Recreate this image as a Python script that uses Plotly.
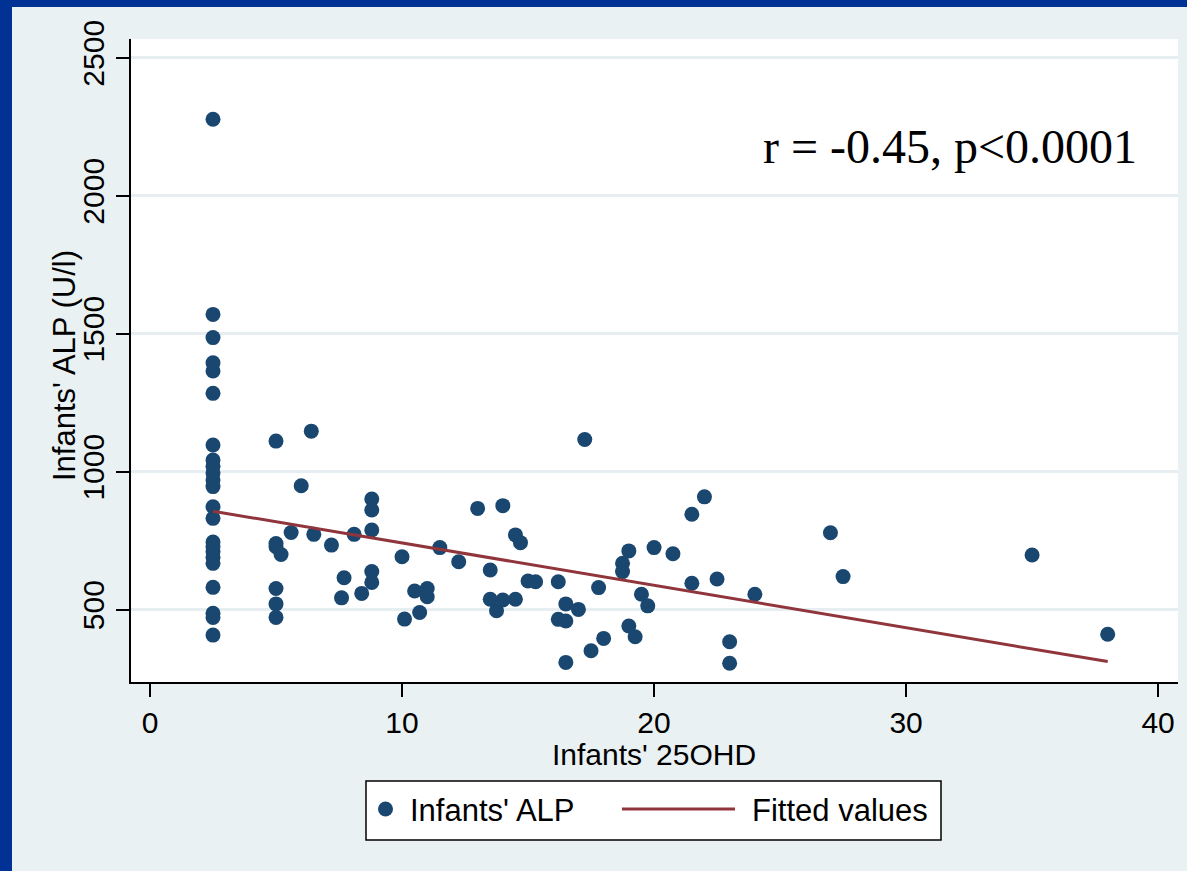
import plotly.graph_objects as go

# ---- data ----
ohd = [2.5] * 23 + [5.0] * 6 + [5.2, 5.6, 6.0, 6.4, 6.5, 7.2, 7.7, 7.6, 8.1, 8.4] + [8.8] * 5 + \
      [10.0, 10.1, 10.5, 10.7, 11.0, 11.0, 11.5, 12.25, 13.0, 13.5, 13.5, 13.75, 14.0, 14.0,
       14.5, 14.5, 14.7, 15.0, 15.3, 16.2, 16.2, 16.5, 16.5, 16.5, 17.0, 17.25, 17.5, 17.8, 18.0,
       18.75, 18.75, 19.0, 19.0, 19.25, 19.5, 19.75, 20.0, 20.75, 21.5, 21.5, 22.0, 22.5,
       23.0, 23.0, 24.0, 27.0, 27.5, 35.0, 38.0]
alp = [2277, 1570, 1486, 1395, 1365, 1284, 1097, 1042, 1020, 995, 970, 946, 873, 831,
       745, 728, 710, 690, 668, 581, 487, 472, 408] + \
      [1111, 740, 728, 577, 521, 472] + \
      [700, 780, 949, 1147, 773, 734, 616, 543, 773, 559] + \
      [901, 861, 789, 638, 599] + \
      [692, 466, 568, 490, 577, 547, 725, 674, 867, 644, 538, 496, 877, 535,
       538, 771, 743, 604, 601, 601, 465, 521, 459, 309, 501, 1117, 351, 580, 396,
       668, 638, 713, 441, 402, 556, 514, 725, 703, 846, 596, 909, 611,
       384, 306, 556, 779, 620, 698, 411]
fit_x = [2.5, 38.0]
fit_y = [857, 312]

x_ticks = [0, 10, 20, 30, 40]
y_ticks = [500, 1000, 1500, 2000, 2500]

# ---- styling ----
NAVY = '#1A476F'
MAROON = '#90353B'
BG = '#EAF1F3'
BLUE = '#003296'
FONT = 'Liberation Sans, Arial, sans-serif'

W, H = 1187, 871
L, R, T, B = 131, 1178, 39, 682


def px(xp):
    return (xp - L) / (R - L)


def py(yp):
    return (B - yp) / (B - T)


fig = go.Figure()
fig.add_trace(go.Scatter(x=ohd, y=alp, mode='markers', name="Infants' ALP",
                         marker=dict(size=15, color=NAVY, line=dict(width=0)),
                         showlegend=False))
fig.add_trace(go.Scatter(x=fit_x, y=fit_y, mode='lines', name='Fitted values',
                         line=dict(color=MAROON, width=3), showlegend=False))

shapes = [
    # frame strips
    dict(type='rect', xref='paper', yref='paper', x0=px(0), x1=px(12), y0=py(H), y1=py(0),
         fillcolor=BLUE, line=dict(width=0), layer='above'),
    dict(type='rect', xref='paper', yref='paper', x0=px(0), x1=px(W), y0=py(7), y1=py(0),
         fillcolor=BLUE, line=dict(width=0), layer='above'),
    # legend box
    dict(type='rect', xref='paper', yref='paper', x0=px(366), x1=px(941), y0=py(840), y1=py(781),
         fillcolor='white', line=dict(color='black', width=1.5)),
    dict(type='circle', xref='paper', yref='paper', x0=px(378), x1=px(393), y0=py(816.5), y1=py(801.5),
         fillcolor=NAVY, line=dict(width=0)),
    dict(type='line', xref='paper', yref='paper', x0=px(622), x1=px(735), y0=py(809), y1=py(809),
         line=dict(color=MAROON, width=3)),
]

annotations = [
    dict(text="Infants' ALP", xref='paper', yref='paper', x=px(408), y=py(810),
         xanchor='left', yanchor='middle', showarrow=False,
         font=dict(family=FONT, size=31, color='black')),
    dict(text='Fitted values', xref='paper', yref='paper', x=px(750), y=py(810),
         xanchor='left', yanchor='middle', showarrow=False,
         font=dict(family=FONT, size=31, color='black')),
    dict(text='r = -0.45, p<0.0001', xref='paper', yref='paper', x=px(950), y=py(146),
         xanchor='center', yanchor='middle', showarrow=False,
         font=dict(family='Liberation Serif, Times New Roman, serif', size=48, color='black')),
    # axis titles
    dict(text="Infants' 25OHD", xref='paper', yref='paper', x=px(654), y=py(754),
         xanchor='center', yanchor='middle', showarrow=False,
         font=dict(family=FONT, size=30, color='black')),
    dict(text="Infants' ALP (U/l)", xref='paper', yref='paper', x=px(64), y=py(366),
         xanchor='center', yanchor='middle', showarrow=False, textangle=-90,
         font=dict(family=FONT, size=31, color='black')),
]

fig.update_layout(
    width=W, height=H,
    margin=dict(l=L, r=W - R, t=T, b=H - B, autoexpand=False),
    paper_bgcolor=BG, plot_bgcolor='white',
    font=dict(family=FONT, size=30, color='black'),
    showlegend=False,
    shapes=shapes, annotations=annotations,
    xaxis=dict(range=[-0.754, 40.79], tickvals=x_ticks, ticks='outside', ticklen=13,
               tickwidth=1.5, tickcolor='black', showline=True, linecolor='black',
               linewidth=1.5, showgrid=False, zeroline=False,
               tickfont=dict(family=FONT, size=30, color='black')),
    yaxis=dict(range=[238, 2568], tickvals=y_ticks, tickangle=-90, ticks='outside', ticklen=13,
               tickwidth=1.5, tickcolor='black', showline=True, linecolor='black',
               linewidth=1.5, showgrid=True, gridcolor='#E6EEF1', gridwidth=2.5, zeroline=False,
               tickfont=dict(family=FONT, size=30, color='black')),
)

fig.write_html('out.html')
